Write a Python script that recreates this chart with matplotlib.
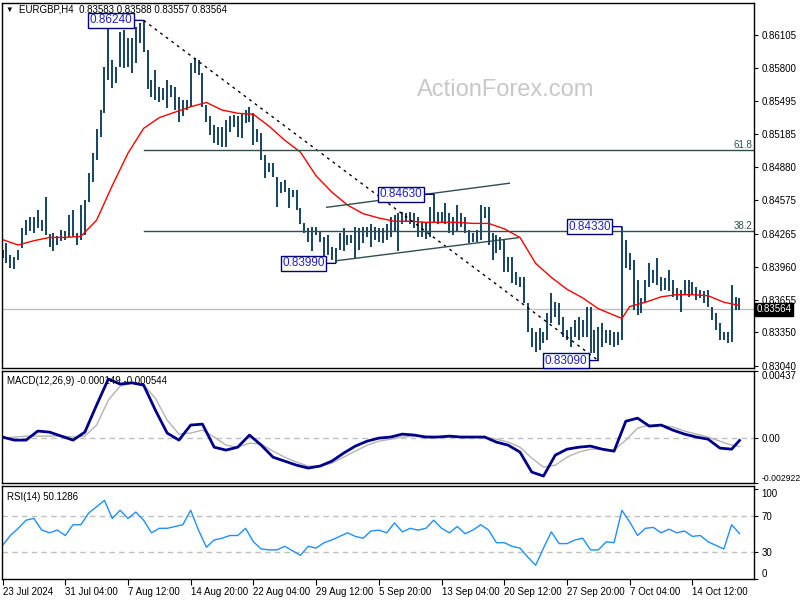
import matplotlib
matplotlib.use("Agg")
import matplotlib.pyplot as plt
import matplotlib.transforms as mtransforms

plt.rcParams["font.family"] = ["Liberation Sans", "DejaVu Sans"]

# ---------------------------------------------------------------------------
# EURGBP H4 chart, one bar per 8 hours (index 0 = 23 Jul 2024 00:00)
# ---------------------------------------------------------------------------
highs = [
    0.8411, 0.8418, 0.8407, 0.8405, 0.8411, 0.8432, 0.8439, 0.8442, 0.8442, 0.8448,
    0.8439, 0.8460, 0.8426, 0.8427, 0.8424, 0.8430, 0.8429, 0.8444, 0.8448, 0.8427,
    0.8453, 0.8458, 0.8483, 0.8501, 0.8523, 0.8541, 0.8581, 0.8620, 0.8587, 0.8581,
    0.8613, 0.8615, 0.8608, 0.8608, 0.8618, 0.8622, 0.8624, 0.8597, 0.8569, 0.8578,
    0.8562, 0.8561, 0.8569, 0.8564, 0.8562, 0.8553, 0.8550, 0.8550, 0.8585, 0.8589,
    0.8587, 0.8575, 0.8546, 0.8535, 0.8527, 0.8525, 0.8525, 0.8532, 0.8535, 0.8536,
    0.8535, 0.8538, 0.8541, 0.8544, 0.8538, 0.8523, 0.8520, 0.8499, 0.8492, 0.8492,
    0.8479, 0.8474, 0.8476, 0.8469, 0.8467, 0.8467, 0.8450, 0.8436, 0.8432, 0.8433,
    0.8433, 0.8428, 0.8423, 0.8425, 0.8414, 0.8413, 0.8427, 0.8432, 0.8425, 0.8425,
    0.8433, 0.8432, 0.8433, 0.8433, 0.8435, 0.8433, 0.8432, 0.8432, 0.8435, 0.8442,
    0.8444, 0.8446, 0.8447, 0.8446, 0.8447, 0.8446, 0.8442, 0.8437, 0.8437, 0.8451,
    0.8463, 0.8447, 0.8447, 0.8455, 0.8446, 0.8442, 0.8453, 0.8446, 0.8442, 0.8430,
    0.8427, 0.8430, 0.8453, 0.8451, 0.8451, 0.8427, 0.8425, 0.8423, 0.8421, 0.8405,
    0.8405, 0.8391, 0.8386, 0.8386, 0.8362, 0.8339, 0.8335, 0.8339, 0.8335, 0.8353,
    0.8372, 0.8363, 0.8362, 0.8349, 0.8337, 0.8340, 0.8347, 0.8349, 0.8347, 0.8359,
    0.8359, 0.8337, 0.8340, 0.8344, 0.8337, 0.8337, 0.8335, 0.8335, 0.8433, 0.8421,
    0.8409, 0.8402, 0.8384, 0.8367, 0.8384, 0.8399, 0.8393, 0.8404, 0.8386, 0.8385,
    0.8393, 0.8384, 0.8376, 0.8374, 0.8384, 0.8384, 0.8382, 0.8377, 0.8374, 0.8373,
    0.8374, 0.8359, 0.8353, 0.8344, 0.8335, 0.8335, 0.8379, 0.8368, 0.8367,
]
lows = [
    0.8404, 0.8399, 0.8395, 0.8394, 0.8402, 0.8413, 0.8425, 0.8429, 0.8427, 0.8432,
    0.8429, 0.8425, 0.8414, 0.8410, 0.8416, 0.8420, 0.8421, 0.8423, 0.8423, 0.8416,
    0.8421, 0.8425, 0.8456, 0.8474, 0.8495, 0.8516, 0.8538, 0.8569, 0.8561, 0.8566,
    0.8581, 0.8580, 0.8581, 0.8575, 0.8585, 0.8603, 0.8595, 0.8560, 0.8553, 0.8550,
    0.8548, 0.8550, 0.8543, 0.8553, 0.8541, 0.8530, 0.8535, 0.8541, 0.8544, 0.8575,
    0.8573, 0.8544, 0.8530, 0.8518, 0.8510, 0.8509, 0.8507, 0.8507, 0.8521, 0.8525,
    0.8516, 0.8515, 0.8529, 0.8530, 0.8509, 0.8511, 0.8495, 0.8478, 0.8484, 0.8479,
    0.8451, 0.8464, 0.8465, 0.8450, 0.8460, 0.8448, 0.8435, 0.8427, 0.8419, 0.8410,
    0.8425, 0.8419, 0.8400, 0.8407, 0.8402, 0.8399, 0.8411, 0.8410, 0.8416, 0.8418,
    0.8404, 0.8411, 0.8418, 0.8423, 0.8414, 0.8421, 0.8419, 0.8418, 0.8421, 0.8423,
    0.8428, 0.8410, 0.8435, 0.8437, 0.8435, 0.8432, 0.8423, 0.8423, 0.8422, 0.8423,
    0.8437, 0.8435, 0.8436, 0.8435, 0.8427, 0.8425, 0.8428, 0.8433, 0.8427, 0.8418,
    0.8419, 0.8419, 0.8421, 0.8441, 0.8416, 0.8402, 0.8409, 0.8411, 0.8391, 0.8391,
    0.8381, 0.8379, 0.8377, 0.8362, 0.8335, 0.8322, 0.8317, 0.8319, 0.8325, 0.8328,
    0.8344, 0.8349, 0.8342, 0.8331, 0.8328, 0.8322, 0.8331, 0.8328, 0.8331, 0.8331,
    0.8316, 0.8316, 0.8309, 0.8322, 0.8325, 0.8323, 0.8322, 0.8323, 0.8328, 0.8395,
    0.8393, 0.8356, 0.8351, 0.8353, 0.8362, 0.8377, 0.8381, 0.8379, 0.8373, 0.8374,
    0.8373, 0.8368, 0.8365, 0.8354, 0.8370, 0.8368, 0.8370, 0.8365, 0.8367, 0.8362,
    0.8359, 0.8347, 0.8337, 0.8328, 0.8328, 0.8325, 0.8326, 0.8356, 0.8356,
]
last_price = 0.83564

# moving average (red)
ma_idx = [0, 4, 8, 12, 16, 20, 24, 28, 32, 36, 40, 44, 48, 52, 56, 60, 64, 68, 72,
          76, 80, 84, 88, 92, 96, 100, 104, 108, 112, 116, 120, 124, 128, 132, 136,
          140, 144, 148, 152, 156, 158, 160, 164, 168, 172, 176, 180, 184, 188]
ma_vals = [0.8421, 0.8416, 0.8420, 0.8423, 0.8423, 0.8424, 0.8439, 0.8471, 0.8501,
           0.8524, 0.8534, 0.8539, 0.8544, 0.8548, 0.8541, 0.8538, 0.8537, 0.8526,
           0.8513, 0.8502, 0.8480, 0.8465, 0.8453, 0.8445, 0.8441, 0.8438, 0.8438,
           0.8437, 0.8437, 0.8437, 0.8436, 0.8436, 0.8431, 0.8423, 0.8399, 0.8386,
           0.8375, 0.8367, 0.8357, 0.8351, 0.8348, 0.8359, 0.8363, 0.8368, 0.8370,
           0.8370, 0.8369, 0.8363, 0.8360]

# MACD(12,26,9)
macd_idx = list(range(0, 187, 3)) + [188]
macd_main = [
    0.00007, -0.00013, -0.00013, 0.00046, 0.00039, 0.00013, -0.00013, 0.00039, 0.00215, 0.00385,
    0.00352, 0.00360, 0.00345, 0.00182, 0.00033, -0.00013, 0.00085, 0.00091, -0.00059, -0.00078,
    -0.00059, 0.00020, -0.00046, -0.00124, -0.00150, -0.00176, -0.00195, -0.00182, -0.00150, -0.00098,
    -0.00052, -0.00020, 0.00000, 0.00007, 0.00026, 0.00020, 0.00007, 0.00007, 0.00013, 0.00007,
    0.00007, 0.00007, -0.00026, -0.00046, -0.00091, -0.00221, -0.00247, -0.00111, -0.00072, -0.00059,
    -0.00052, -0.00072, -0.00085, 0.00110, 0.00130, 0.00078, 0.00085, 0.00052, 0.00026, 0.00007,
    -0.00007, -0.00065, -0.00072, -0.00015,
]
macd_signal = [
    0.00000, 0.00007, 0.00013, 0.00013, 0.00013, 0.00013, 0.00007, 0.00013, 0.00085, 0.00247,
    0.00339, 0.00358, 0.00345, 0.00260, 0.00117, 0.00026, 0.00033, 0.00052, 0.00007, -0.00046,
    -0.00059, -0.00033, -0.00039, -0.00085, -0.00124, -0.00156, -0.00182, -0.00182, -0.00163, -0.00124,
    -0.00085, -0.00046, -0.00020, -0.00007, 0.00007, 0.00013, 0.00013, 0.00007, 0.00007, 0.00007,
    0.00007, 0.00007, -0.00007, -0.00026, -0.00059, -0.00130, -0.00189, -0.00176, -0.00124, -0.00091,
    -0.00072, -0.00072, -0.00078, -0.00013, 0.00065, 0.00085, 0.00085, 0.00072, 0.00046, 0.00026,
    0.00007, -0.00020, -0.00046, -0.00054,
]
macd_range = (-0.002922, 0.00437)

# RSI(14)
rsi_idx = list(range(0, 189, 2))
rsi_vals = [
    37, 48, 56, 65, 67, 54, 51, 54, 48, 60,
    60, 73, 80, 87, 67, 76, 67, 74, 65, 51,
    56, 56, 58, 60, 76, 54, 35, 43, 45, 48,
    48, 56, 41, 33, 32, 32, 36, 31, 26, 36,
    34, 40, 43, 47, 51, 47, 45, 53, 54, 51,
    62, 52, 56, 54, 56, 65, 56, 51, 58, 50,
    54, 60, 54, 40, 40, 36, 34, 24, 15, 34,
    52, 39, 39, 43, 45, 32, 32, 41, 40, 76,
    63, 48, 56, 57, 51, 55, 51, 53, 47, 48,
    41, 37, 33, 60, 50.13,
]

price_ticks = [0.86105, 0.85800, 0.85495, 0.85185, 0.84880, 0.84575,
               0.84265, 0.83960, 0.83655, 0.83350, 0.83040]
time_tick_idx = [0, 16, 32, 48, 64, 80, 96, 112, 128, 144, 160, 176]
time_tick_labels = ["23 Jul 2024", "31 Jul 04:00", "7 Aug 12:00", "14 Aug 20:00",
                    "22 Aug 04:00", "29 Aug 12:00", "5 Sep 20:00", "13 Sep 04:00",
                    "20 Sep 12:00", "27 Sep 20:00", "7 Oct 04:00", "14 Oct 12:00"]

# swing points marked with boxed labels
swing_idx = [36, 110, 85, 158, 152]
swing_price = [0.86240, 0.84630, 0.83990, 0.84330, 0.83090]

# rising channel (idx, price) endpoints
chan_upper = ([82.7, 129.3], [0.84509, 0.84732])
chan_lower = ([85.3, 131.6], [0.84015, 0.84228])

# ---------------------------------------------------------------------------
BAR_C = "#0e3c5a"
LINE_C = "#2f4f4f"
BOX_C = "#000080"
W, H = 800, 600
LEFT, RIGHT = 2, 754


def panel(top, bottom):
    return [LEFT / W, 1 - bottom / H, (RIGHT - LEFT) / W, (bottom - top) / H]


fig = plt.figure(figsize=(8, 6), dpi=100)
ax = fig.add_axes(panel(3, 368))
ax_m = fig.add_axes(panel(371, 483), sharex=ax)
ax_r = fig.add_axes(panel(486, 579), sharex=ax)

for a in (ax, ax_m, ax_r):
    for s in a.spines.values():
        s.set_linewidth(1)
        s.set_color("black")
    a.yaxis.tick_right()
    a.tick_params(axis="y", direction="out", length=3, pad=2.5, labelsize=7,
                  width=0.8)
    a.tick_params(axis="x", length=0, labelbottom=False)

# ---- price panel ----
idx = list(range(len(highs)))
ax.vlines(idx, lows, highs, color=BAR_C, lw=1.35)
ax.plot(ma_idx, ma_vals, color="red", lw=1)

ax.axhline(last_price, color="#c0c0c0", lw=1, zorder=0)

hi_i, lo_i = swing_idx[0], swing_idx[4]
hi_p, lo_p = swing_price[0], swing_price[4]
ax.plot([hi_i, lo_i], [hi_p, lo_p], color="black", lw=1, ls=(0, (2, 3)))

for frac_lvl, name in [(0.618, "61.8"), (0.382, "38.2")]:
    lvl = lo_p + frac_lvl * (hi_p - lo_p)
    ax.plot([hi_i, 192], [lvl, lvl], color=LINE_C, lw=1)
    ax.text(191.3, lvl, name, ha="right", va="bottom", fontsize=7, color=LINE_C)

ax.plot(*chan_upper, color=LINE_C, lw=1)
ax.plot(*chan_lower, color=LINE_C, lw=1)

for i, p in zip(swing_idx, swing_price):
    ax.annotate(f"{p:.5f}", xy=(i, p), xytext=(-8, 0), textcoords="offset points",
                ha="right", va="center", fontsize=8.5, color="#2020c0",
                bbox=dict(boxstyle="square,pad=0.12", fc="white", ec=BOX_C, lw=1),
                arrowprops=dict(arrowstyle="-", color=BOX_C, lw=1,
                                shrinkA=0, shrinkB=0))

ax.set_xlim(-0.13, 191.7)
ax.set_ylim(0.83021, 0.86401)
ax.set_yticks(price_ticks)
ax.set_yticklabels([f"{t:.5f}" for t in price_ticks])

trans = mtransforms.blended_transform_factory(ax.transAxes, ax.transData)
ax.text(1.003, last_price, f"{last_price:.5f}", transform=trans, ha="left",
        va="center", fontsize=7, color="white", clip_on=False,
        bbox=dict(boxstyle="square,pad=0.15", fc="black", ec="black"))

fig.text(5 / W, 1 - 10 / H, "\u25bc", fontsize=5.5, va="center", ha="left")
fig.text(19 / W, 1 - 10 / H, "EURGBP,H4  0.83583 0.83588 0.83557 0.83564",
         fontsize=7, va="center", ha="left")
fig.text(506 / W, 1 - 90 / H, "ActionForex.com", fontsize=17, color="#c8c8c8",
         ha="center", va="center")

# ---- MACD panel ----
ax_m.axhline(0, color="#c0c0c0", lw=1, ls=(0, (4, 3)))
ax_m.plot(macd_idx, macd_signal, color="#b4b4b4", lw=1)
ax_m.plot(macd_idx, macd_main, color="#00008b", lw=2)
ax_m.set_ylim(*macd_range)
ax_m.set_yticks([macd_range[1], 0, macd_range[0]])
ax_m.set_yticklabels(["0.00437", "0.00", "-0.002922"])
lbls = ax_m.get_yticklabels()
lbls[0].set_va("top")
lbls[2].set_va("bottom")
lbls[2].set_fontsize(6.2)
ax_m.text(0.007, 0.955, "MACD(12,26,9) -0.000149 -0.000544", transform=ax_m.transAxes,
          fontsize=7, va="top", ha="left")

# ---- RSI panel ----
for lvl in (70, 30):
    ax_r.axhline(lvl, color="#c0c0c0", lw=1, ls=(0, (4, 3)))
ax_r.plot(rsi_idx, rsi_vals, color="#1e90ff", lw=1)
ax_r.set_ylim(-0.33, 103)
ax_r.set_yticks([100, 70, 30, 0])
ax_r.set_yticklabels(["100", "70", "30", "0"])
rl = ax_r.get_yticklabels()
rl[0].set_va("top")
rl[3].set_va("bottom")
ax_r.text(0.007, 0.94, "RSI(14) 50.1286", transform=ax_r.transAxes,
          fontsize=7, va="top", ha="left")

ax_r.set_xticks(time_tick_idx)
ax_r.set_xticklabels(time_tick_labels)
ax_r.tick_params(axis="x", direction="out", length=4, width=0.8, labelbottom=True,
                 labelsize=7, pad=2)
for t in ax_r.get_xticklabels():
    t.set_ha("left")

fig.savefig("out.png", dpi=100)
